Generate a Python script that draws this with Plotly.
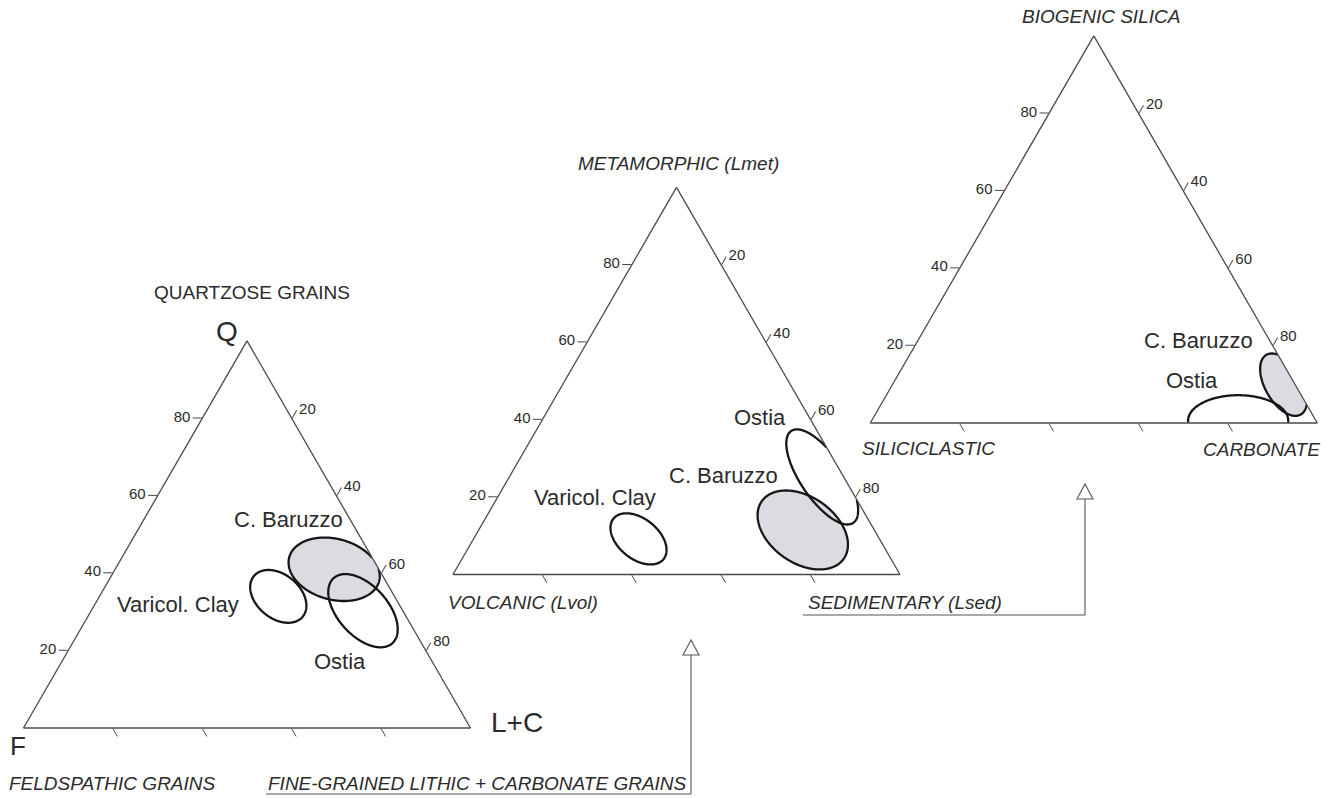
import numpy as np
import plotly.graph_objects as go

W, H = 1334, 798
SQ3 = np.sqrt(3.0)

# ---------------- data ----------------
tick_vals = [20, 40, 60, 80]

# Diagram 1: Q (a) - F (b) - L+C (c)
d1_names = ["C. Baruzzo", "Varicol. Clay", "Ostia"]
d1_a = [41.0, 34.0, 30.3]
d1_b = [10.0, 26.0, 8.9]
d1_c = [49.0, 40.0, 60.8]
d1_major = [10.4, 7.1, 9.8]
d1_minor = [6.8, 4.9, 5.6]
d1_angle = [-15, -40, -48]
d1_filled = [True, False, False]

# Diagram 2: Lmet (a) - Lvol (b) - Lsed (c)
d2_names = ["Varicol. Clay", "C. Baruzzo", "Ostia"]
d2_a = [9.2, 11.5, 25.2]
d2_b = [53.9, 16.0, 4.8]
d2_c = [36.9, 72.5, 70.0]
d2_major = [7.2, 11.2, 12.4]
d2_minor = [4.5, 7.4, 4.9]
d2_angle = [-39, -35, -56]
d2_filled = [False, True, False]

# Diagram 3: Biogenic silica (a) - Siliciclastic (b) - Carbonate (c)
d3_names = ["C. Baruzzo", "Ostia"]
d3_a = [9.9, 0.6]
d3_b = [2.6, 17.4]
d3_c = [87.5, 82.0]
d3_major = [7.7, 11.2]
d3_minor = [4.1, 5.7]
d3_angle = [-60, 0]
d3_filled = [True, False]

# ---------------- helpers ----------------
def px(x):
    return x / W


def py(y):
    return 1 - y / H


def ellipse_abc(a0, b0, c0, A, B, ang, n=481):
    X0 = c0 + a0 / 2.0
    Y0 = a0 * SQ3 / 2.0
    t = np.linspace(0, 2 * np.pi, n)
    th = np.radians(ang)
    X = X0 + A * np.cos(t) * np.cos(th) - B * np.sin(t) * np.sin(th)
    Y = Y0 + A * np.cos(t) * np.sin(th) + B * np.sin(t) * np.cos(th)
    a = 2 * Y / SQ3
    c = X - a / 2
    b = 100 - a - c
    return np.stack([a, b, c], axis=1)


def clip_poly(P):
    pts = [p for p in P[:-1]]
    for k in range(3):
        out = []
        m = len(pts)
        for i in range(m):
            cur = pts[i]
            prv = pts[i - 1]
            cin = cur[k] >= 0
            pin = prv[k] >= 0
            if cin:
                if not pin:
                    t = prv[k] / (prv[k] - cur[k])
                    out.append(prv + t * (cur - prv))
                out.append(cur)
            elif pin:
                t = prv[k] / (prv[k] - cur[k])
                out.append(prv + t * (cur - prv))
        pts = out
    pts.append(pts[0])
    return np.array(pts)


def outline(P):
    Q = P[:-1]
    inside = (Q >= -1e-9).all(axis=1)
    if inside.all():
        return [list(P[:, 0]), list(P[:, 1]), list(P[:, 2])]
    start = int(np.argmin(inside))
    Q = np.roll(Q, -start, axis=0)
    ins = np.roll(inside, -start)
    A, Bs, C = [], [], []
    for p, ok in zip(Q, ins):
        if ok:
            A.append(float(p[0])); Bs.append(float(p[1])); C.append(float(p[2]))
        else:
            A.append(None); Bs.append(None); C.append(None)
    return [A, Bs, C]


FILL = "rgb(221,219,226)"
EDGE = "#161616"
AXC = "#4a4a4a"
TXT = "#2b2b2b"
FONT = "Liberation Sans, Arial, Helvetica, sans-serif"

fig = go.Figure()


def add_diagram(subplot, A_, B_, C_, MJ, MN, ANG, FILLED):
    # fills first
    for i in range(len(A_)):
        P = ellipse_abc(A_[i], B_[i], C_[i], MJ[i], MN[i], ANG[i])
        if FILLED[i]:
            Pc = clip_poly(P)
            fig.add_trace(go.Scatterternary(
                a=Pc[:, 0], b=Pc[:, 1], c=Pc[:, 2], mode="lines",
                fill="toself", fillcolor=FILL,
                line=dict(width=0, color="rgba(0,0,0,0)"),
                subplot=subplot, hoverinfo="skip", showlegend=False))
    for i in range(len(A_)):
        P = ellipse_abc(A_[i], B_[i], C_[i], MJ[i], MN[i], ANG[i])
        oa, ob, oc = outline(P)
        fig.add_trace(go.Scatterternary(
            a=oa, b=ob, c=oc, mode="lines", connectgaps=False,
            line=dict(width=2.3, color=EDGE),
            subplot=subplot, hoverinfo="skip", showlegend=False))


add_diagram("ternary", d1_a, d1_b, d1_c, d1_major, d1_minor, d1_angle, d1_filled)
add_diagram("ternary2", d2_a, d2_b, d2_c, d2_major, d2_minor, d2_angle, d2_filled)
add_diagram("ternary3", d3_a, d3_b, d3_c, d3_major, d3_minor, d3_angle, d3_filled)

# ---------------- layout ----------------
SIDE = 447.0
HT = SIDE * SQ3 / 2


def tern_layout(xl, yb):
    def ax(labels):
        return dict(
            tickmode="array", tickvals=tick_vals,
            ticks="outside", ticklen=9, tickwidth=1.1, tickcolor=AXC,
            showticklabels=labels,
            tickfont=dict(family=FONT, size=15, color=TXT),
            showgrid=False, showline=True, linecolor=AXC, linewidth=1.3,
            title=dict(text=""), min=0,
        )
    return dict(
        domain=dict(x=[px(xl), px(xl + SIDE)], y=[py(yb), py(yb - HT)]),
        sum=100, bgcolor="white",
        aaxis=ax(True), baxis=ax(False), caxis=ax(True),
    )


annots = []


def txt(x, y, s, size, xanchor="center", italic=False, color=TXT):
    annots.append(dict(
        x=px(x), y=py(y), xref="paper", yref="paper",
        text=("<i>%s</i>" % s) if italic else s,
        showarrow=False, xanchor=xanchor, yanchor="middle",
        font=dict(family=FONT, size=size, color=color)))


# diagram 1 texts
txt(252, 292, "QUARTZOSE GRAINS", 19)
txt(227, 331, "Q", 28)
txt(18, 746, "F", 26)
txt(517, 722, "L+C", 28)
txt(7, 783, "FELDSPATHIC GRAINS", 19, xanchor="left", italic=True)
txt(266, 783, "FINE-GRAINED LITHIC + CARBONATE GRAINS", 19, xanchor="left", italic=True)
lab1 = [(288, 519), (178, 604), (340, 661)]
for (x, y), s in zip(lab1, d1_names):
    txt(x, y, s, 22)

# diagram 2 texts
txt(678, 163, "METAMORPHIC (Lmet)", 19, italic=True)
txt(446, 602, "VOLCANIC (Lvol)", 19, xanchor="left", italic=True)
txt(806, 602, "SEDIMENTARY (Lsed)", 19, xanchor="left", italic=True)
lab2 = [(595, 497), (723, 475), (760, 417)]
for (x, y), s in zip(lab2, d2_names):
    txt(x, y, s, 22)

# diagram 3 texts
txt(1101, 16, "BIOGENIC SILICA", 19, italic=True)
txt(860, 448, "SILICICLASTIC", 19, xanchor="left", italic=True)
txt(1322, 449, "CARBONATE", 19, xanchor="right", italic=True)
lab3 = [(1198, 340), (1192, 380)]
for (x, y), s in zip(lab3, d3_names):
    txt(x, y, s, 22)

# connector arrows (decoration)
shapes = []
ARC = "#555555"


def arrow(xt, yt, yline, xend):
    hw, hh = 8, 15
    shapes.append(dict(type="path", xref="paper", yref="paper",
                       path="M %f %f L %f %f L %f %f Z" % (
                           px(xt), py(yt), px(xt - hw), py(yt + hh), px(xt + hw), py(yt + hh)),
                       line=dict(color=ARC, width=1.1), fillcolor="white"))
    shapes.append(dict(type="line", xref="paper", yref="paper",
                       x0=px(xt), y0=py(yt + hh), x1=px(xt), y1=py(yline),
                       line=dict(color=ARC, width=1.1)))
    shapes.append(dict(type="line", xref="paper", yref="paper",
                       x0=px(xend), y0=py(yline), x1=px(xt), y1=py(yline),
                       line=dict(color=ARC, width=1.1)))


arrow(691, 640, 794, 266)
arrow(1085, 484, 615, 803)

fig.update_layout(
    width=W, height=H, margin=dict(l=0, r=0, t=0, b=0),
    paper_bgcolor="white", plot_bgcolor="white",
    ternary=tern_layout(23.5, 728),
    ternary2=tern_layout(453.0, 574.5),
    ternary3=tern_layout(870.3, 423.0),
    annotations=annots, shapes=shapes, showlegend=False,
    font=dict(family=FONT, color=TXT),
)

fig.write_html("out.html", config={"displayModeBar": False},
               post_script="document.body.style.margin='0px';")
